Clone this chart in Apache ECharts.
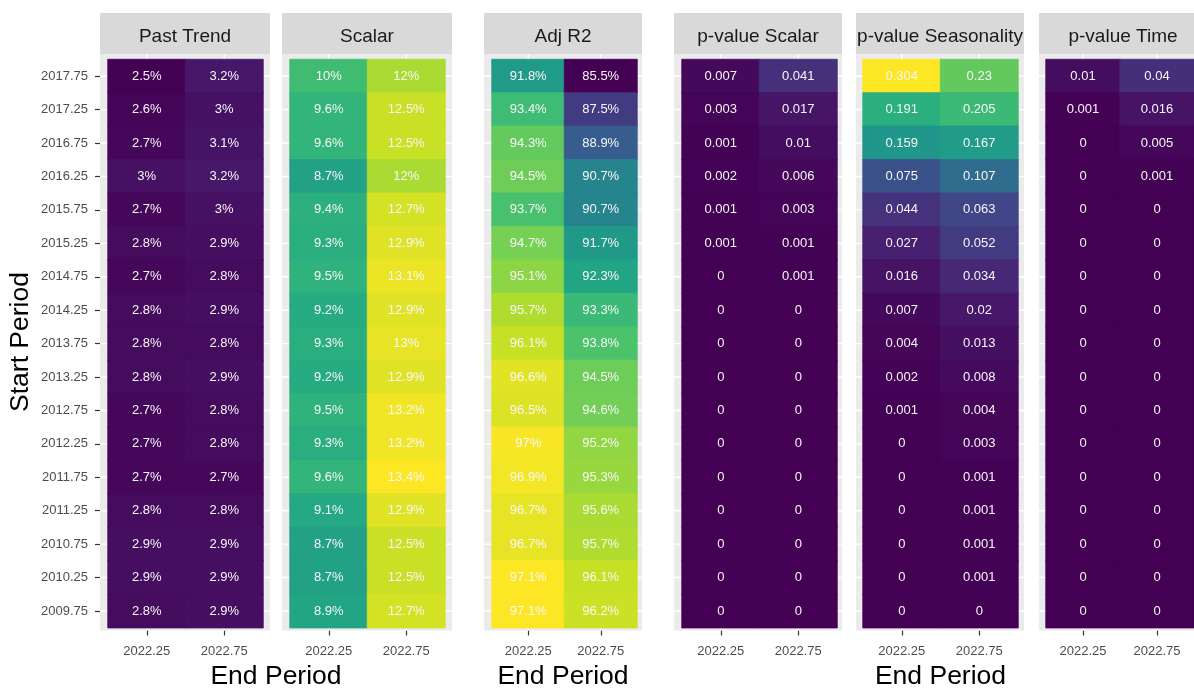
<!DOCTYPE html>
<html>
<head>
<meta charset="utf-8">
<script src="https://cdn.jsdelivr.net/npm/echarts@6/dist/echarts.min.js"></script>
<style>html,body{margin:0;padding:0;background:#fff;}#chart{width:1194px;height:690px;}</style>
</head>
<body>
<div id="chart"></div>
<script>
// ---------- data ----------
const endPeriods = ['2022.25', '2022.75'];
// top to bottom as displayed
const startPeriods = ['2017.75','2017.25','2016.75','2016.25','2015.75','2015.25','2014.75','2014.25',
  '2013.75','2013.25','2012.75','2012.25','2011.75','2011.25','2010.75','2010.25','2009.75'];

const panelTitles = ['Past Trend', 'Scalar', 'Adj R2', 'p-value Scalar', 'p-value Seasonality', 'p-value Time'];

const pastTrend_2022_25 = [2.5,2.6,2.7,3,2.7,2.8,2.7,2.8,2.8,2.8,2.7,2.7,2.7,2.8,2.9,2.9,2.8];
const pastTrend_2022_75 = [3.2,3,3.1,3.2,3,2.9,2.8,2.9,2.8,2.9,2.8,2.8,2.7,2.8,2.9,2.9,2.9];

const scalar_2022_25 = [10,9.6,9.6,8.7,9.4,9.3,9.5,9.2,9.3,9.2,9.5,9.3,9.6,9.1,8.7,8.7,8.9];
const scalar_2022_75 = [12,12.5,12.5,12,12.7,12.9,13.1,12.9,13,12.9,13.2,13.2,13.4,12.9,12.5,12.5,12.7];

const adjR2_2022_25 = [91.8,93.4,94.3,94.5,93.7,94.7,95.1,95.7,96.1,96.6,96.5,97,96.9,96.7,96.7,97.1,97.1];
const adjR2_2022_75 = [85.5,87.5,88.9,90.7,90.7,91.7,92.3,93.3,93.8,94.5,94.6,95.2,95.3,95.6,95.7,96.1,96.2];

const pScalar_2022_25 = [0.007,0.003,0.001,0.002,0.001,0.001,0,0,0,0,0,0,0,0,0,0,0];
const pScalar_2022_75 = [0.041,0.017,0.01,0.006,0.003,0.001,0.001,0,0,0,0,0,0,0,0,0,0];

const pSeason_2022_25 = [0.304,0.191,0.159,0.075,0.044,0.027,0.016,0.007,0.004,0.002,0.001,0,0,0,0,0,0];
const pSeason_2022_75 = [0.23,0.205,0.167,0.107,0.063,0.052,0.034,0.02,0.013,0.008,0.004,0.003,0.001,0.001,0.001,0.001,0];

const pTime_2022_25 = [0.01,0.001,0,0,0,0,0,0,0,0,0,0,0,0,0,0,0];
const pTime_2022_75 = [0.04,0.016,0.005,0.001,0,0,0,0,0,0,0,0,0,0,0,0,0];

const panelValues = [
  [pastTrend_2022_25, pastTrend_2022_75],
  [scalar_2022_25, scalar_2022_75],
  [adjR2_2022_25, adjR2_2022_75],
  [pScalar_2022_25, pScalar_2022_75],
  [pSeason_2022_25, pSeason_2022_75],
  [pTime_2022_25, pTime_2022_75]
];
const panelIsPercent = [true, true, true, false, false, false];
// colour-scale groups (shared scales)
const colorGroups = [[0, 1], [2], [3, 4, 5]];

// ---------- layout / style ----------
const FONT = '"Liberation Sans", Arial, Helvetica, sans-serif';
const viridis = ['#440154','#482475','#414487','#355f8d','#2a788e','#21918c','#22a884','#44bf70','#7ad151','#bddf26','#fde725'];
const bgBounds = [[100,270],[282,452],[484,642],[674,842],[856,1024],[1039,1207]];
const tileBounds = [[108,263],[290,445],[492,637],[682,837],[863,1018],[1046,1201]];
const bgTop = 54, bgBottom = 630.5;
const tileTop = 59.5, tileBottom = 627.7;
const stripTop = 13;
const axisGroups = [[0,1],[2,2],[3,5]];

// colour range per panel from its shared group
const panelRange = [];
colorGroups.forEach(g => {
  let all = [];
  g.forEach(p => panelValues[p].forEach(c => { all = all.concat(c); }));
  const r = [Math.min.apply(null, all), Math.max.apply(null, all)];
  g.forEach(p => { panelRange[p] = r; });
});

const grids = [], xAxes = [], yAxes = [], series = [];
panelValues.forEach((cols, p) => {
  grids.push({left: tileBounds[p][0], top: tileTop, width: tileBounds[p][1]-tileBounds[p][0], height: tileBottom-tileTop});
  xAxes.push({
    type: 'category', gridIndex: p, data: endPeriods, position: 'bottom',
    offset: bgBottom - tileBottom,
    axisLine: {show: false},
    axisTick: {show: true, alignWithLabel: true, length: 5, lineStyle: {color: '#333333', width: 1.2}},
    axisLabel: {color: '#4d4d4d', fontSize: 13, fontFamily: FONT, margin: 14},
    splitLine: {show: false}
  });
  yAxes.push({
    type: 'category', gridIndex: p, data: startPeriods, inverse: true,
    show: p === 0,
    offset: tileBounds[p][0] - bgBounds[p][0],
    axisLine: {show: false},
    axisTick: {show: true, alignWithLabel: true, length: 5, lineStyle: {color: '#333333', width: 1.2}},
    axisLabel: {color: '#4d4d4d', fontSize: 13, fontFamily: FONT, margin: 12},
    splitLine: {show: false}
  });
  const [mn, mx] = panelRange[p];
  const data = [];
  cols.forEach((vals, j) => vals.forEach((v, i) => {
    const c = echarts.color.lerp((v - mn) / (mx - mn), viridis);
    data.push({value: [j, i, v], itemStyle: {color: c, borderColor: c, borderWidth: 0.8}});
  }));
  const pct = panelIsPercent[p];
  series.push({
    type: 'heatmap', name: panelTitles[p], xAxisIndex: p, yAxisIndex: p, data: data, z: 3,
    label: {show: true, color: '#f7f7f7', fontSize: 13, fontFamily: FONT,
      formatter: (prm) => String(prm.value[2]) + (pct ? '%' : '')},
    emphasis: {disabled: true}
  });
});

const graphics = [];
bgBounds.forEach((b, p) => {
  graphics.push({type: 'rect', z: 0, silent: true, shape: {x: b[0], y: bgTop, width: b[1]-b[0], height: bgBottom-bgTop}, style: {fill: '#ebebeb'}});
  graphics.push({type: 'rect', z: 0, silent: true, shape: {x: b[0], y: stripTop, width: b[1]-b[0], height: bgTop-stripTop}, style: {fill: '#d9d9d9'}});
  graphics.push({type: 'text', z: 5, silent: true, x: (b[0]+b[1])/2, y: 37,
    style: {text: panelTitles[p], fill: '#1a1a1a', font: '19px ' + FONT, align: 'center', verticalAlign: 'middle'}});
});
axisGroups.forEach(g => {
  const cx = (bgBounds[g[0]][0] + bgBounds[g[1]][1]) / 2;
  graphics.push({type: 'text', z: 5, silent: true, x: cx, y: 677,
    style: {text: 'End Period', fill: '#000000', font: '26.5px ' + FONT, align: 'center', verticalAlign: 'middle'}});
});
graphics.push({type: 'text', z: 5, silent: true, x: 21, y: 342, rotation: Math.PI/2,
  style: {text: 'Start Period', fill: '#000000', font: '26.5px ' + FONT, align: 'center', verticalAlign: 'middle'}});

const chart = echarts.init(document.getElementById('chart'), null, {renderer: 'canvas'});
chart.setOption({
  backgroundColor: '#ffffff',
  animation: false,
  grid: grids, xAxis: xAxes, yAxis: yAxes,
  series: series,
  graphic: {elements: graphics}
});

// white panel grid lines at the category positions, via the axes' own scales
const lines = [];
bgBounds.forEach((b, p) => {
  startPeriods.forEach(sp => {
    const pt = chart.convertToPixel({gridIndex: p}, [endPeriods[0], sp]);
    lines.push({type: 'line', z: 1, silent: true, shape: {x1: b[0], y1: pt[1], x2: b[1], y2: pt[1]}, style: {stroke: '#ffffff', lineWidth: 1.4}});
  });
  endPeriods.forEach(ep => {
    const pt = chart.convertToPixel({gridIndex: p}, [ep, startPeriods[0]]);
    lines.push({type: 'line', z: 1, silent: true, shape: {x1: pt[0], y1: bgTop, x2: pt[0], y2: bgBottom}, style: {stroke: '#ffffff', lineWidth: 1.4}});
  });
});
chart.setOption({graphic: {elements: graphics.concat(lines)}});
</script>
</body>
</html>
